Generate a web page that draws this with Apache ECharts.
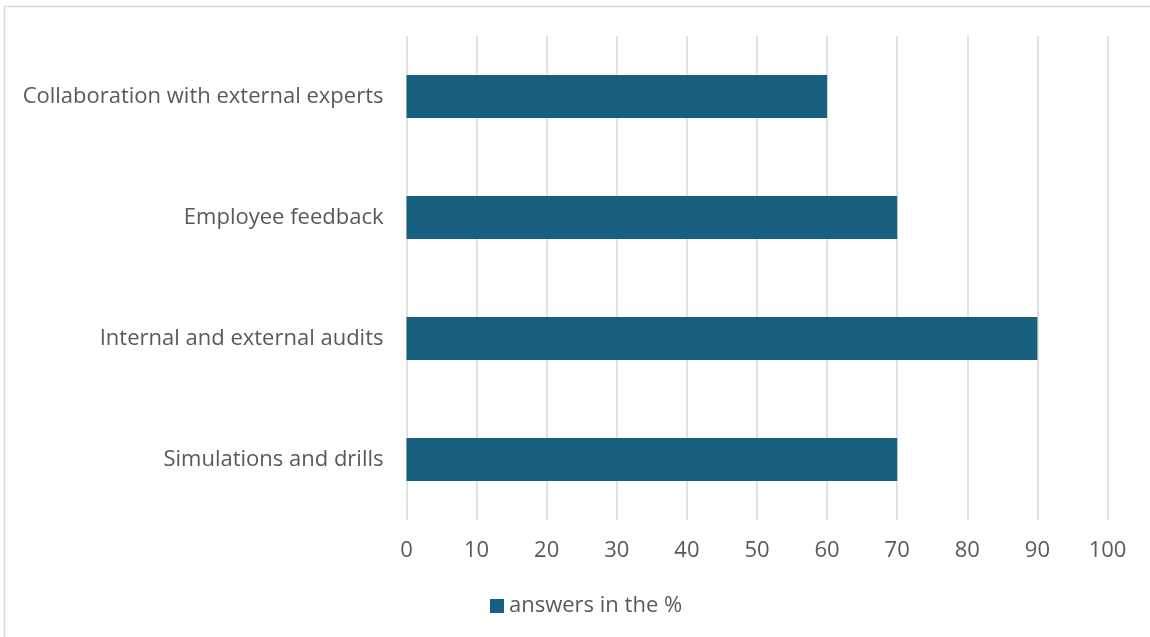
<!DOCTYPE html>
<html>
<head>
<meta charset="utf-8">
<style>
  html, body { margin: 0; padding: 0; background: #ffffff; }
  #chart { width: 1150px; height: 637px; }
</style>
<script src="https://cdn.jsdelivr.net/npm/echarts@6/dist/echarts.min.js"></script>
</head>
<body>
<div id="chart"></div>
<script>
// Categories listed bottom to top (category axis grows upward)
const categories = [
  'Simulations and drills',
  'Internal and external audits',
  'Employee feedback',
  'Collaboration with external experts'
];
const answers = [70, 90, 70, 60];
const seriesName = 'answers in the %';

const chart = echarts.init(document.getElementById('chart'), null, { renderer: 'canvas' });

const font = '"Open Sans", Roboto, "Noto Sans", sans-serif';

chart.setOption({
  backgroundColor: '#ffffff',
  animation: false,
  textStyle: { fontFamily: font },
  graphic: [{
    type: 'rect',
    shape: { x: 4.5, y: 6.5, width: 1200, height: 700 },
    style: { fill: 'none', stroke: '#d9d9d9', lineWidth: 1.5 },
    silent: true
  }],
  grid: { left: 406.5, right: 42.5, top: 36, bottom: 117, containLabel: false },
  legend: {
    bottom: 20,
    left: 490,
    padding: 0,
    itemWidth: 14,
    itemHeight: 14,
    itemGap: 5,
    icon: 'rect',
    textStyle: { color: '#595959', fontSize: 22, fontFamily: font },
    data: [seriesName]
  },
  xAxis: {
    type: 'value',
    min: 0,
    max: 100,
    interval: 10,
    axisLine: { show: false },
    axisTick: { show: false },
    axisLabel: { color: '#595959', fontSize: 22, margin: 20, fontFamily: font },
    splitLine: { show: true, lineStyle: { color: '#d9d9d9', width: 1.5 } }
  },
  yAxis: {
    type: 'category',
    data: categories,
    axisLine: { show: false },
    axisTick: { show: false },
    axisLabel: { color: '#595959', fontSize: 22, margin: 23, fontFamily: font },
    splitLine: { show: false }
  },
  series: [{
    name: seriesName,
    type: 'bar',
    data: answers,
    barWidth: '35.5%',
    itemStyle: { color: '#17607f' }
  }]
});
</script>
</body>
</html>
